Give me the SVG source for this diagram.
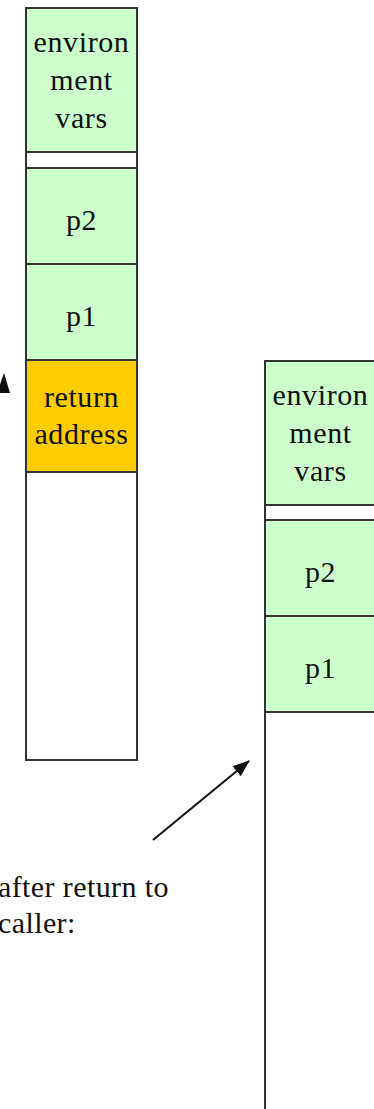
<svg xmlns="http://www.w3.org/2000/svg" width="374" height="1109" viewBox="0 0 374 1109">
  <style>
    .cell { stroke: #333333; stroke-width: 2; }
    .env { fill: #ccffcc; }
    .ret { fill: #ffcc00; }
    .blank { fill: #ffffff; }
    .lbl { font-family: "Liberation Serif", "Times New Roman", serif; font-size: 30px; letter-spacing: 0.6px; fill: #111111; text-anchor: middle; }
    .note { font-family: "Liberation Serif", "Times New Roman", serif; font-size: 30px; letter-spacing: 0.4px; fill: #111111; }
    .wire { stroke: #111111; stroke-width: 2; fill: none; }
  </style>
  <defs>
    <marker id="head" markerWidth="17" markerHeight="13" refX="16" refY="6.5" orient="auto" markerUnits="userSpaceOnUse">
      <path d="M0,0 L17,6.5 L0,13 Z" fill="#111111"/>
    </marker>
  </defs>

  <rect width="374" height="1109" fill="#ffffff"/>

  <!-- stack during call -->
  <g id="stack-call">
    <g id="call-env">
      <rect class="cell env" x="26" y="8" width="111" height="144"/>
      <text class="lbl" x="81.5" y="52">environ</text>
      <text class="lbl" x="81.5" y="90">ment</text>
      <text class="lbl" x="81.5" y="128">vars</text>
    </g>
    <g id="call-gap">
      <rect class="cell blank" x="26" y="152" width="111" height="16"/>
    </g>
    <g id="call-p2">
      <rect class="cell env" x="26" y="168" width="111" height="96"/>
      <text class="lbl" x="81.5" y="230">p2</text>
    </g>
    <g id="call-p1">
      <rect class="cell env" x="26" y="264" width="111" height="96"/>
      <text class="lbl" x="81.5" y="326">p1</text>
    </g>
    <g id="call-ret">
      <rect class="cell ret" x="26" y="360" width="111" height="112"/>
      <text class="lbl" x="81.5" y="407">return</text>
      <text class="lbl" x="81.5" y="444">address</text>
    </g>
    <g id="call-free">
      <rect class="cell blank" x="26" y="472" width="111" height="288"/>
    </g>
  </g>

  <!-- stack after return -->
  <g id="stack-after">
    <g id="after-env">
      <rect class="cell env" x="265" y="361" width="111" height="144"/>
      <text class="lbl" x="320.5" y="405">environ</text>
      <text class="lbl" x="320.5" y="443">ment</text>
      <text class="lbl" x="320.5" y="481">vars</text>
    </g>
    <g id="after-gap">
      <rect class="cell blank" x="265" y="505" width="111" height="15"/>
    </g>
    <g id="after-p2">
      <rect class="cell env" x="265" y="520" width="111" height="96"/>
      <text class="lbl" x="320.5" y="582">p2</text>
    </g>
    <g id="after-p1">
      <rect class="cell env" x="265" y="616" width="111" height="96"/>
      <text class="lbl" x="320.5" y="678">p1</text>
    </g>
    <g id="after-free">
      <rect class="cell blank" x="265" y="712" width="111" height="420"/>
    </g>
  </g>

  <g id="caption">
    <text class="note" x="-2" y="897">after return to</text>
    <text class="note" x="-2" y="933">caller:</text>
  </g>

  <!-- pointers -->
  <g id="connectors">
    <line class="wire" x1="153" y1="840" x2="249" y2="761" marker-end="url(#head)"/>
    <polygon points="4,373 10,393 -3,393" fill="#111111"/>
  </g>
</svg>
